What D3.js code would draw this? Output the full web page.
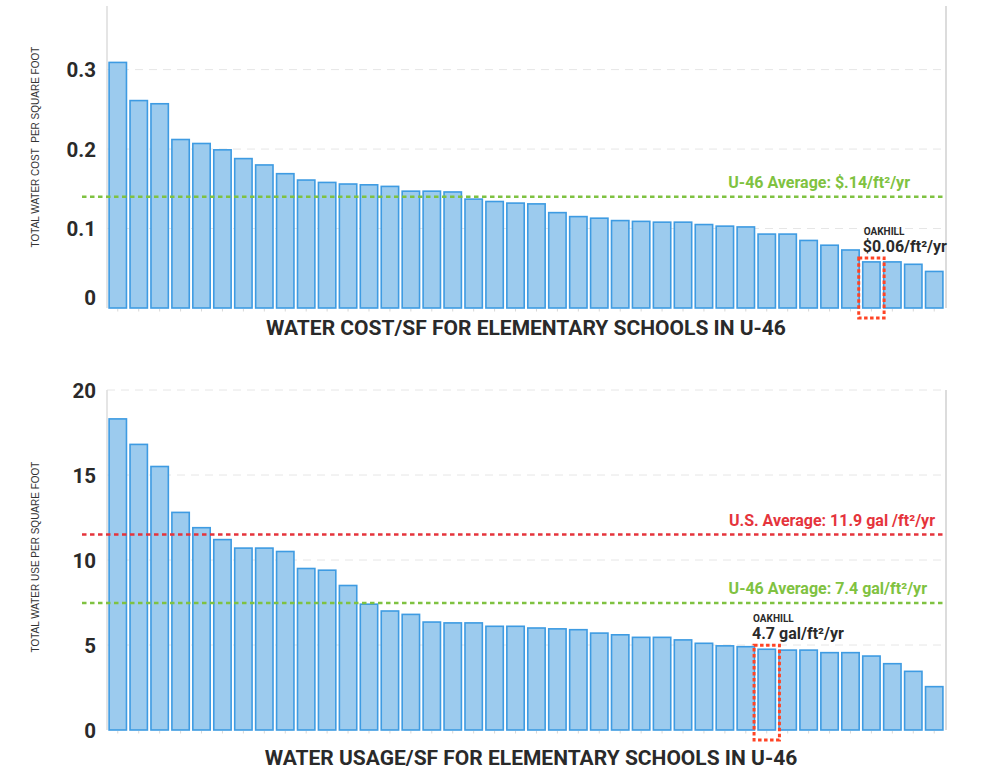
<!DOCTYPE html>
<html>
<head>
<meta charset="utf-8">
<script src="https://cdn.jsdelivr.net/npm/d3@7"></script>
<style>
  body { margin: 0; background: #fff; }
  svg { display: block; font-family: Roboto, "Open Sans", sans-serif; }
</style>
</head>
<body>
<div id="chart"></div>
<script>
// Water cost per square foot, sorted high to low (40 elementary schools)
const costValues = [
  0.309, 0.261, 0.257, 0.212, 0.207, 0.199, 0.188, 0.180, 0.169, 0.161,
  0.158, 0.156, 0.155, 0.153, 0.147, 0.147, 0.146, 0.137, 0.134, 0.132,
  0.131, 0.120, 0.115, 0.113, 0.110, 0.109, 0.108, 0.108, 0.105, 0.103,
  0.102, 0.093, 0.093, 0.085, 0.079, 0.073, 0.058, 0.058, 0.055, 0.046
];
const costTicks = [0, 0.1, 0.2, 0.3];
const costTickLabels = ["0", "0.1", "0.2", "0.3"];
const costAverage = 0.14;

// Water use (gal) per square foot, sorted high to low
const usageValues = [
  18.3, 16.8, 15.5, 12.8, 11.9, 11.2, 10.7, 10.7, 10.5, 9.5,
  9.4, 8.5, 7.4, 7.0, 6.8, 6.35, 6.3, 6.3, 6.1, 6.1,
  6.0, 5.95, 5.9, 5.7, 5.6, 5.45, 5.45, 5.3, 5.1, 4.95,
  4.9, 4.75, 4.7, 4.7, 4.55, 4.55, 4.35, 3.9, 3.45, 2.55
];
const usageTicks = [0, 5, 10, 15, 20];
const usageTickLabels = ["0", "5", "10", "15", "20"];
const usageUsAverage = 11.5;
const usageU46Average = 7.47;

const W = 989, H = 771;
const PLOT_LEFT = 107, PLOT_RIGHT = 946;

const BAR_FILL = "#9ccbee";
const BAR_STROKE = "#3e9be2";
const GRID = "#e6e6e6";
const GREEN = "#7fc241";
const RED = "#e5343c";
const HIGHLIGHT = "#ff4324";
const TEXT = "#2a2a2a";

const svg = d3.select("#chart")
  .append("svg")
  .attr("width", W)
  .attr("height", H);

function drawPanel(cfg) {
  const x = d3.scaleBand()
    .domain(d3.range(cfg.values.length))
    .range([PLOT_LEFT, PLOT_RIGHT - 1])
    .paddingInner(0.17)
    .paddingOuter(0.1);

  const y = d3.scaleLinear()
    .domain(cfg.domain)
    .range([cfg.bottom, cfg.top]);

  const g = svg.append("g");

  // Dashed gridlines (skip the zero baseline)
  g.selectAll("line.grid")
    .data(cfg.ticks.filter(d => d > 0))
    .enter()
    .append("line")
    .attr("class", "grid")
    .attr("x1", PLOT_LEFT)
    .attr("x2", PLOT_RIGHT)
    .attr("y1", d => y(d))
    .attr("y2", d => y(d))
    .attr("stroke", GRID)
    .attr("stroke-width", 1)
    .attr("stroke-dasharray", "8,6");

  // Left axis line and right frame line
  g.append("line")
    .attr("x1", PLOT_LEFT).attr("x2", PLOT_LEFT)
    .attr("y1", cfg.top).attr("y2", cfg.bottom)
    .attr("stroke", "#dcdcdc").attr("stroke-width", 1.5);
  g.append("line")
    .attr("x1", PLOT_RIGHT).attr("x2", PLOT_RIGHT)
    .attr("y1", cfg.top).attr("y2", cfg.bottom)
    .attr("stroke", "#dcdcdc").attr("stroke-width", 2);

  // Bars
  g.selectAll("rect.bar")
    .data(cfg.values)
    .enter()
    .append("rect")
    .attr("class", "bar")
    .attr("x", (d, i) => x(i))
    .attr("y", d => y(d))
    .attr("width", x.bandwidth())
    .attr("height", d => y(0) - y(d))
    .attr("fill", BAR_FILL)
    .attr("stroke", BAR_STROKE)
    .attr("stroke-width", 1.6);

  // Small tick marks under the bars
  const xAxis = g.append("g")
    .attr("transform", `translate(0,${cfg.bottom + 1})`)
    .call(d3.axisBottom(x).tickSize(2.5).tickFormat(""));
  xAxis.select(".domain").remove();
  xAxis.selectAll(".tick line").attr("stroke", "#d8d8d8");

  // Y axis labels
  const yAxis = g.append("g")
    .attr("transform", `translate(${PLOT_LEFT - 8},0)`)
    .call(d3.axisLeft(y)
      .tickValues(cfg.ticks)
      .tickSize(0)
      .tickFormat((d, i) => cfg.tickLabels[i]));
  yAxis.select(".domain").remove();
  yAxis.selectAll(".tick text")
    .attr("font-family", "Roboto")
    .attr("font-size", 20.5)
    .attr("font-weight", 700)
    .attr("fill", TEXT)
    .attr("dy", d => (d === 0 ? cfg.zeroDy : "0.35em"));

  // Average lines with labels
  cfg.averages.forEach(a => {
    g.append("line")
      .attr("x1", 82)
      .attr("x2", PLOT_RIGHT)
      .attr("y1", y(a.value))
      .attr("y2", y(a.value))
      .attr("stroke", a.color)
      .attr("stroke-width", 2.6)
      .attr("stroke-dasharray", "4.5,3.5");
    g.append("text")
      .attr("x", a.labelX)
      .attr("y", y(a.value) - 9)
      .attr("text-anchor", "end")
      .attr("font-size", 16)
      .attr("font-weight", 700)
      .attr("fill", a.color)
      .text(a.label);
  });

  // Highlighted school
  const hi = cfg.highlight;
  const bx = x(hi) - 4;
  const bw = x.bandwidth() + 8;
  const by = y(cfg.values[hi]) - 4;
  g.append("rect")
    .attr("x", bx)
    .attr("y", by)
    .attr("width", bw)
    .attr("height", cfg.bottom + 10 - by)
    .attr("fill", "none")
    .attr("stroke", HIGHLIGHT)
    .attr("stroke-width", 3)
    .attr("stroke-dasharray", "3.5,2.5");
  g.append("text")
    .attr("x", bx + cfg.labelDx)
    .attr("y", by - 23)
    .attr("font-size", 10)
    .attr("font-weight", 700)
    .attr("fill", TEXT)
    .text("OAKHILL");
  g.append("text")
    .attr("x", bx + cfg.labelDx - 1)
    .attr("y", by - 6)
    .attr("font-size", 16)
    .attr("font-weight", 700)
    .attr("fill", TEXT)
    .text(cfg.highlightLabel);

  // Rotated y-axis title
  g.append("text")
    .attr("transform", `translate(39,${cfg.yTitleY}) rotate(-90)`)
    .attr("text-anchor", "middle")
    .attr("font-family", "'Liberation Sans', Arial, sans-serif")
    .attr("font-size", 10)
    .attr("fill", "#333")
    .style("white-space", "pre")
    .text(cfg.yTitle);

  // Chart title
  g.append("text")
    .attr("x", cfg.titleX)
    .attr("y", cfg.titleY)
    .attr("text-anchor", "middle")
    .attr("font-size", 21)
    .attr("font-weight", 700)
    .attr("fill", TEXT)
    .text(cfg.title);
}

drawPanel({
  values: costValues,
  domain: [0, 0.38],
  top: 6,
  bottom: 308,
  ticks: costTicks,
  tickLabels: costTickLabels,
  zeroDy: "-0.15em",
  averages: [
    {value: costAverage, color: GREEN, label: "U-46 Average: $.14/ft²/yr", labelX: 910}
  ],
  highlight: 36,
  highlightLabel: "$0.06/ft²/yr",
  labelDx: 5,
  yTitle: "TOTAL WATER COST  PER SQUARE FOOT",
  yTitleY: 147,
  title: "WATER COST/SF FOR ELEMENTARY SCHOOLS IN U-46",
  titleX: 526,
  titleY: 335
});

drawPanel({
  values: usageValues,
  domain: [0, 20],
  top: 390,
  bottom: 730,
  ticks: usageTicks,
  tickLabels: usageTickLabels,
  zeroDy: "0.35em",
  averages: [
    {value: usageUsAverage, color: RED, label: "U.S. Average: 11.9 gal /ft²/yr", labelX: 935},
    {value: usageU46Average, color: GREEN, label: "U-46 Average: 7.4 gal/ft²/yr", labelX: 927}
  ],
  highlight: 31,
  highlightLabel: "4.7 gal/ft²/yr",
  labelDx: -1,
  yTitle: "TOTAL WATER USE PER SQUARE FOOT",
  yTitleY: 557,
  title: "WATER USAGE/SF FOR ELEMENTARY SCHOOLS IN U-46",
  titleX: 531,
  titleY: 765
});
</script>
</body>
</html>
